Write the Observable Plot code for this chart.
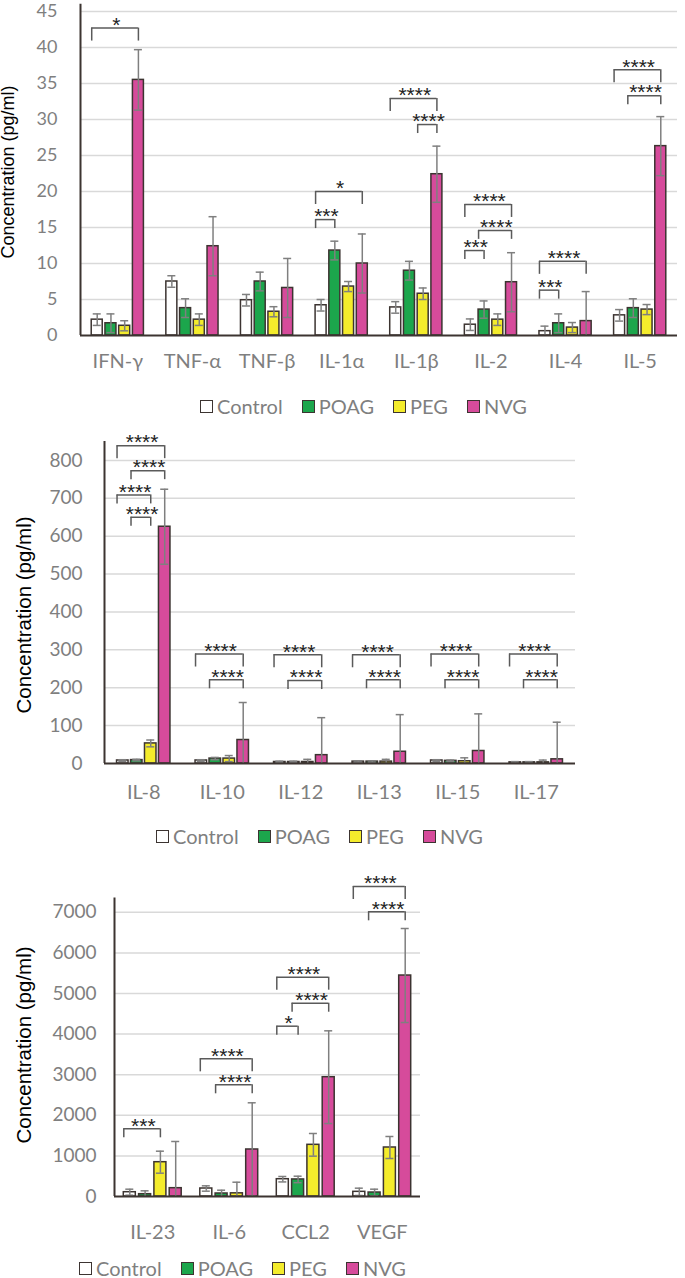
<!DOCTYPE html>
<html><head><meta charset="utf-8">
<script src="https://cdn.jsdelivr.net/npm/d3@7"></script>
<script src="https://cdn.jsdelivr.net/npm/@observablehq/plot@0.6"></script>
<style>
body{margin:0;background:#fff;width:685px;height:1278px;position:relative;overflow:hidden;font-family:Lato,"Open Sans",sans-serif}
.panel{position:absolute;left:0}
.ylab{position:absolute;font-family:"Liberation Sans",Arial,sans-serif;color:#000;white-space:nowrap;transform:translate(-50%,-50%) rotate(-90deg)}
.legend{position:absolute;display:flex;align-items:center;font-family:Lato,sans-serif;font-size:20px;color:#7f7f7f;white-space:nowrap;transform:translateY(-50%)}
.legend .sw{width:11px;height:11px;border:1.5px solid #3c3431;margin-right:4px}
.legend .item{display:flex;align-items:center;margin-right:19px}
g[aria-label="stars"] text{letter-spacing:2.4px}
</style></head><body>
<script>
const groups = ["Control", "POAG", "PEG", "NVG"];
const groupFill = ["#ffffff", "#1ca64c", "#f4ec2c", "#d64b9b"];

// Panel 1
const cats1 = ["IFN-γ","TNF-α","TNF-β","IL-1α","IL-1β","IL-2","IL-4","IL-5"];
const control1 = [2.2,7.5,4.9,4.2,3.9,1.5,0.6,2.8];
const controlSd1 = [0.8,0.8,0.8,0.8,0.8,0.8,0.7,0.8];
const poag1 = [1.7,3.8,7.5,11.8,9.0,3.6,1.7,3.8];
const poagSd1 = [1.3,1.3,1.3,1.3,1.3,1.2,1.3,1.3];
const peg1 = [1.35,2.2,3.3,6.8,5.8,2.2,1.1,3.6];
const pegSd1 = [0.7,0.8,0.7,0.7,0.8,0.8,0.7,0.7];
const nvg1 = [35.5,12.4,6.6,10.0,22.4,7.4,2.0,26.3];
const nvgSd1 = [4.2,4.1,4.1,4.1,3.9,4.1,4.1,4.1];
const ticks1 = [0,5,10,15,20,25,30,35,40,45];
const brackets1 = [
  {cat:"IFN-γ", a:"Control", b:"NVG", y:42.7, label:"*"},
  {cat:"IL-1α", a:"Control", b:"NVG", y:20.0, label:"*"},
  {cat:"IL-1α", a:"Control", b:"POAG", y:16.1, label:"***"},
  {cat:"IL-1β", a:"Control", b:"NVG", y:32.9, label:"****"},
  {cat:"IL-1β", a:"PEG", b:"NVG", y:29.3, label:"****"},
  {cat:"IL-2", a:"Control", b:"NVG", y:18.2, label:"****"},
  {cat:"IL-2", a:"POAG", b:"NVG", y:14.6, label:"****"},
  {cat:"IL-2", a:"Control", b:"POAG", y:11.8, label:"***"},
  {cat:"IL-4", a:"Control", b:"NVG", y:10.3, label:"****"},
  {cat:"IL-4", a:"Control", b:"POAG", y:6.3, label:"***"},
  {cat:"IL-5", a:"Control", b:"NVG", y:36.9, label:"****"},
  {cat:"IL-5", a:"POAG", b:"NVG", y:33.3, label:"****"}
];

// Panel 2
const cats2 = ["IL-8","IL-10","IL-12","IL-13","IL-15","IL-17"];
const control2 = [8,8,4,5,8,3];
const controlSd2 = [2,2,2,2,2,2];
const poag2 = [9,13,4,5,7,3];
const poagSd2 = [2,3,2,2,2,2];
const peg2 = [53,13,4,5,6,3];
const pegSd2 = [9,8,7,6,9,6];
const nvg2 = [625,62,22,31,33,11];
const nvgSd2 = [99,99,99,98,98,98];
const ticks2 = [0,100,200,300,400,500,600,700,800];
const brackets2 = [
  {cat:"IL-8", a:"Control", b:"NVG", y:839, label:"****"},
  {cat:"IL-8", a:"POAG", b:"NVG", y:773, label:"****"},
  {cat:"IL-8", a:"Control", b:"PEG", y:709, label:"****"},
  {cat:"IL-8", a:"POAG", b:"PEG", y:650, label:"****"},
  {cat:"IL-10", a:"Control", b:"NVG", y:289, label:"****"},
  {cat:"IL-10", a:"POAG", b:"NVG", y:221, label:"****"},
  {cat:"IL-12", a:"Control", b:"NVG", y:287, label:"****"},
  {cat:"IL-12", a:"POAG", b:"NVG", y:219, label:"****"},
  {cat:"IL-13", a:"Control", b:"NVG", y:287, label:"****"},
  {cat:"IL-13", a:"POAG", b:"NVG", y:221, label:"****"},
  {cat:"IL-15", a:"Control", b:"NVG", y:289, label:"****"},
  {cat:"IL-15", a:"POAG", b:"NVG", y:221, label:"****"},
  {cat:"IL-17", a:"Control", b:"NVG", y:289, label:"****"},
  {cat:"IL-17", a:"POAG", b:"NVG", y:221, label:"****"}
];

// Panel 3
const cats3 = ["IL-23","IL-6","CCL2","VEGF"];
const control3 = [106,197,426,115];
const controlSd3 = [74,66,67,90];
const poag3 = [57,74,420,98];
const poagSd3 = [83,81,80,82];
const peg3 = [845,78,1273,1207];
const pegSd3 = [271,274,279,271];
const nvg3 = [205,1158,2939,5443];
const nvgSd3 = [1150,1150,1142,1158];
const ticks3 = [0,1000,2000,3000,4000,5000,6000,7000];
const brackets3 = [
  {cat:"IL-23", a:"Control", b:"PEG", y:1667, label:"***"},
  {cat:"IL-6", a:"Control", b:"NVG", y:3391, label:"****"},
  {cat:"IL-6", a:"POAG", b:"NVG", y:2751, label:"****"},
  {cat:"CCL2", a:"Control", b:"NVG", y:5402, label:"****"},
  {cat:"CCL2", a:"POAG", b:"NVG", y:4761, label:"****"},
  {cat:"CCL2", a:"Control", b:"POAG", y:4195, label:"*"},
  {cat:"VEGF", a:"Control", b:"NVG", y:7635, label:"****"},
  {cat:"VEGF", a:"POAG", b:"NVG", y:7012, label:"****"}
];

function drawPanel(cfg) {
  const {cats, means, sds, brackets, yMax, yTicks, top, height, marginLeft, marginRight,
         marginTop, marginBottom, slot, barPx, capPx, tickPad, xPad, fontSize} = cfg;
  const width = 685;
  const n = cats.length;
  const bandPx = (width - marginLeft - marginRight) / n;
  const barW = barPx / bandPx, capW = capPx / bandPx;
  const pxPerUnit = (height - marginTop - marginBottom) / yMax;
  const rows = [];
  groups.forEach((g, gi) => cats.forEach((c, k) => rows.push({cat: c, k, g, gi, mean: means[gi][k], sd: sds[gi][k]})));
  const cx = d => d.k + 0.5 + (d.gi - 1.5) * slot;
  const brs = brackets.map(b => {
    const k = cats.indexOf(b.cat), ga = groups.indexOf(b.a), gb = groups.indexOf(b.b);
    const left = k + 0.5 + (ga - 1.5) * slot - barW / 2;
    const right = k + 0.5 + (gb - 1.5) * slot;
    const drop = (gb - ga === 3 ? 13 : 9) / pxPerUnit;
    return {...b, left, right, mid: (left + right) / 2, bottom: b.y - drop};
  });
  const lower = rows.filter(d => d.mean - d.sd > 0);
  const svg = Plot.plot({
    width, height, marginLeft, marginRight, marginTop, marginBottom,
    style: {fontFamily: "Lato, sans-serif", fontSize: fontSize + "px", color: "#7f7f7f", background: "transparent", overflow: "visible"},
    x: {type: "linear", domain: [0, n], nice: false},
    y: {type: "linear", domain: [0, yMax], nice: false},
    marks: [
      Plot.gridY({ticks: yTicks.filter(t => t > 0), stroke: "#d9d9d9", strokeOpacity: 1, strokeWidth: 1.5}),
      Plot.rectY(rows, {x1: d => cx(d) - barW / 2, x2: d => cx(d) + barW / 2, y: "mean",
        fill: d => groupFill[d.gi], stroke: "#3c3431", strokeWidth: 1.5}),
      Plot.ruleX(rows, {x: cx, y1: d => Math.max(0, d.mean - d.sd), y2: d => d.mean + d.sd, stroke: "#7f7f7f", strokeWidth: 1.5}),
      Plot.ruleY(rows, {x1: d => cx(d) - capW / 2, x2: d => cx(d) + capW / 2, y: d => d.mean + d.sd, stroke: "#7f7f7f", strokeWidth: 1.5}),
      Plot.ruleY(lower, {x1: d => cx(d) - capW / 2, x2: d => cx(d) + capW / 2, y: d => d.mean - d.sd, stroke: "#7f7f7f", strokeWidth: 1.5}),
      Plot.ruleY([0], {stroke: "#3c3431", strokeWidth: 2}),
      Plot.ruleX([0], {stroke: "#3c3431", strokeWidth: 2}),
      Plot.axisY({ticks: yTicks, tickFormat: d => String(d), tickSize: 0, tickPadding: tickPad, label: null}),
      Plot.axisX({ticks: cats.map((c, i) => i + 0.5), tickFormat: v => cats[Math.round(v - 0.5)], tickSize: 0, tickPadding: xPad, label: null, fontSize: 20}),
      Plot.ruleY(brs, {x1: "left", x2: "right", y: "y", stroke: "#5a5a5a", strokeWidth: 1.5}),
      Plot.ruleX(brs, {x: "left", y1: "y", y2: "bottom", stroke: "#5a5a5a", strokeWidth: 1.5}),
      Plot.ruleX(brs, {x: "right", y1: "y", y2: "bottom", stroke: "#5a5a5a", strokeWidth: 1.5}),
      Plot.text(brs, {x: "mid", y: "y", text: "label", lineAnchor: "middle", dy: -3, dx: 1.2, fontSize: 21,
        fontFamily: "Liberation Sans, Arial, sans-serif", fill: "#222", ariaLabel: "stars"})
    ]
  });
  const div = document.createElement("div");
  div.className = "panel";
  div.style.top = top + "px";
  div.appendChild(svg);
  document.body.appendChild(div);
}

function addYLabel(x, y, size) {
  const d = document.createElement("div");
  d.className = "ylab";
  d.style.left = x + "px"; d.style.top = y + "px"; d.style.fontSize = size + "px";
  d.textContent = "Concentration (pg/ml)";
  document.body.appendChild(d);
}
function addLegend(x, y) {
  const d = document.createElement("div");
  d.className = "legend";
  d.style.left = x + "px"; d.style.top = y + "px";
  groups.forEach((g, i) => {
    const it = document.createElement("div"); it.className = "item";
    const sw = document.createElement("div"); sw.className = "sw"; sw.style.background = groupFill[i];
    const t = document.createElement("span"); t.textContent = g;
    it.appendChild(sw); it.appendChild(t); d.appendChild(it);
  });
  document.body.appendChild(d);
}

drawPanel({cats: cats1, means: [control1, poag1, peg1, nvg1], sds: [controlSd1, poagSd1, pegSd1, nvgSd1],
  brackets: brackets1, yMax: 46, yTicks: ticks1, top: 0, height: 378, marginLeft: 80, marginRight: 8,
  marginTop: 3.8, marginBottom: 43, slot: 0.184, barPx: 11, capPx: 8, tickPad: 23, xPad: 18, fontSize: 18});
drawPanel({cats: cats2, means: [control2, poag2, peg2, nvg2], sds: [controlSd2, poagSd2, pegSd2, nvgSd2],
  brackets: brackets2, yMax: 850, yTicks: ticks2, top: 420, height: 390, marginLeft: 104, marginRight: 110,
  marginTop: 21, marginBottom: 47, slot: 0.178, barPx: 11.5, capPx: 8, tickPad: 22, xPad: 21, fontSize: 19});
drawPanel({cats: cats3, means: [control3, poag3, peg3, nvg3], sds: [controlSd3, poagSd3, pegSd3, nvgSd3],
  brackets: brackets3, yMax: 7350, yTicks: ticks3, top: 850, height: 400, marginLeft: 114, marginRight: 265,
  marginTop: 47.6, marginBottom: 54, slot: 0.2, barPx: 12, capPx: 8, tickPad: 18, xPad: 28, fontSize: 19});

addYLabel(8, 172, 18);
addYLabel(24, 615, 20.5);
addYLabel(24, 1045, 20.5);
addLegend(200, 406);
addLegend(156, 836);
addLegend(79, 1268);
</script>
</body></html>
